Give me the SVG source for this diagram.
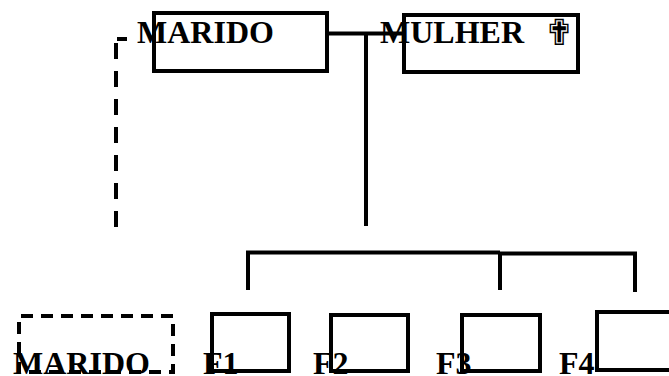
<svg xmlns="http://www.w3.org/2000/svg" width="669" height="376" viewBox="0 0 669 376">
<style>
.box{fill:none;stroke:#000;stroke-width:4}
.dbox{fill:none;stroke:#000;stroke-width:4;stroke-dasharray:12 8}
.ln{fill:none;stroke:#000;stroke-width:4}
.dl{fill:none;stroke:#000;stroke-width:4;stroke-dasharray:16 12}
.t{font-family:"Liberation Serif","Times New Roman",serif;font-weight:bold;font-size:32px;fill:#000}
</style>
<rect width="669" height="376" fill="#fff"/>
<g id="connectors">
<line class="ln" x1="327" y1="33.5" x2="403" y2="33.5"/>
<line class="ln" x1="366" y1="33.5" x2="366" y2="226"/>
<polyline class="ln" points="248,290 248,252.5 500,252.5"/>
<line class="ln" x1="500" y1="252.5" x2="500" y2="290"/>
<polyline class="ln" points="500,253.5 635,253.5 635,292"/>
<line class="ln" x1="117" y1="39" x2="127" y2="39"/>
<line class="dl" x1="116" y1="43" x2="116" y2="228"/>
</g>
<g id="marido-top">
<rect class="box" x="154" y="13" width="173" height="58"/>
<text class="t" x="137" y="43">MARIDO</text>
</g>
<g id="mulher">
<rect class="box" x="404" y="15" width="174" height="57"/>
<text class="t" x="380" y="43">MULHER</text>
<text x="544" y="45" style="font-family:'DejaVu Sans',sans-serif;font-size:36px;fill:#000">✟</text>
</g>
<g id="marido-bottom">
<path class="dbox" d="M19,334 L19,316 L173,316 L173,372 L19,372 Z"/>
<text class="t" x="13" y="374">MARIDO</text>
</g>
<g id="f1">
<rect class="box" x="212" y="314" width="77" height="57"/>
<text class="t" x="203" y="374">F1</text>
</g>
<g id="f2">
<rect class="box" x="331" y="315" width="77" height="56"/>
<text class="t" x="313" y="374">F2</text>
</g>
<g id="f3">
<rect class="box" x="462" y="315" width="78" height="56"/>
<text class="t" x="436" y="374">F3</text>
</g>
<g id="f4">
<rect class="box" x="597" y="312" width="90" height="58"/>
<text class="t" x="559" y="374">F4</text>
</g>
</svg>
